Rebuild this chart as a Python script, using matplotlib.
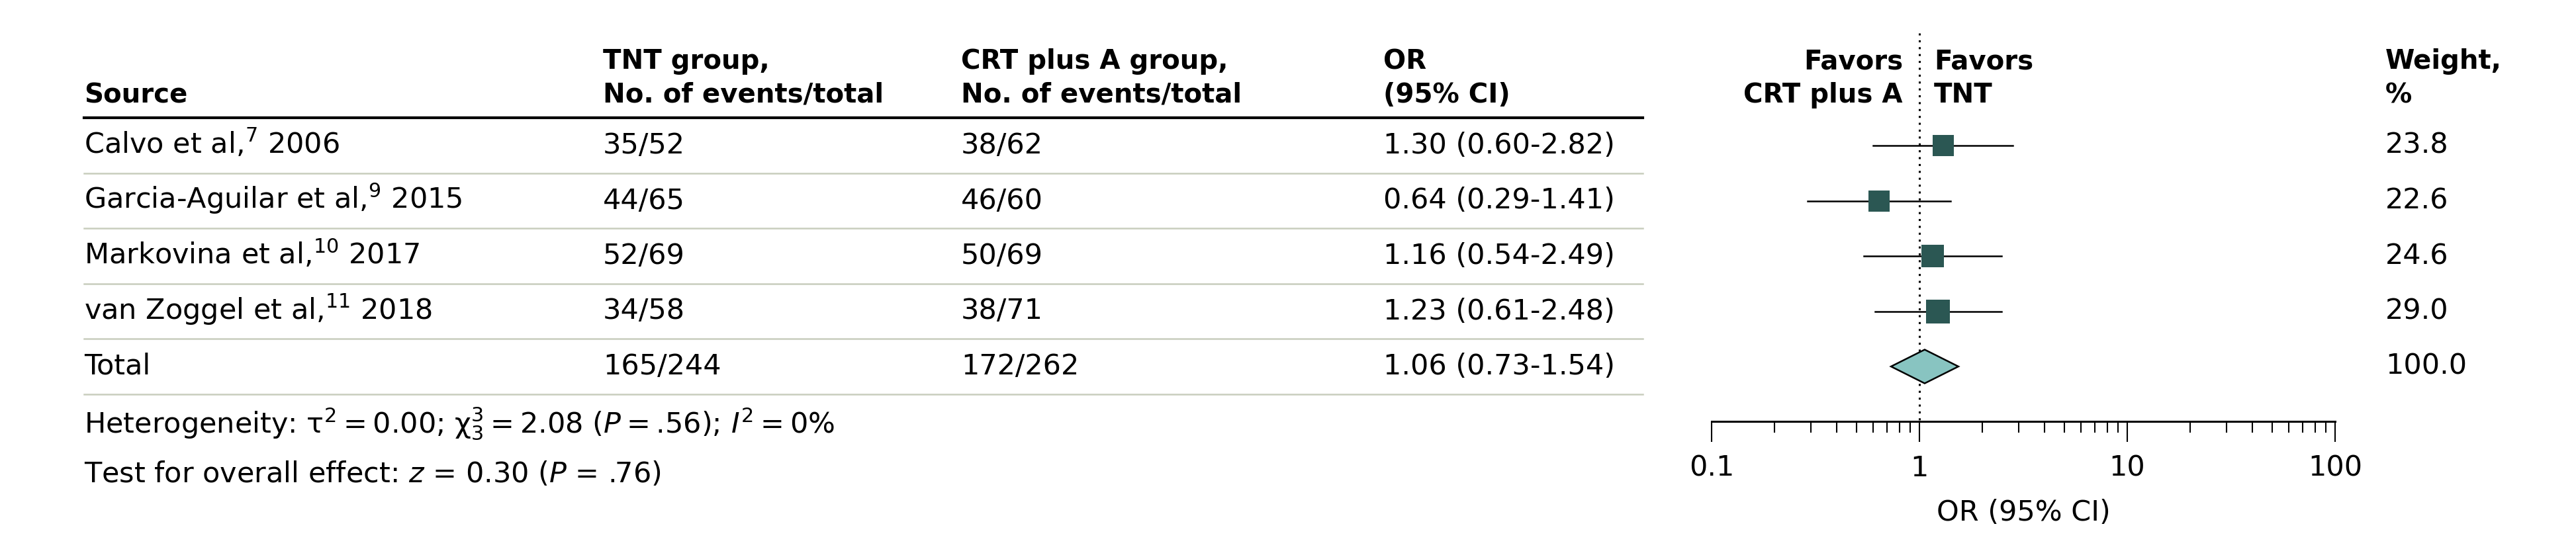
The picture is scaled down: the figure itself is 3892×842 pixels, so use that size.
import matplotlib
matplotlib.use('Agg')
import matplotlib.pyplot as plt
from matplotlib.patches import Polygon

# data
studies = ['Calvo et al,$^{7}$ 2006', 'Garcia-Aguilar et al,$^{9}$ 2015',
           'Markovina et al,$^{10}$ 2017', 'van Zoggel et al,$^{11}$ 2018']
tnt_events = ['35/52', '44/65', '52/69', '34/58']
crt_events = ['38/62', '46/60', '50/69', '38/71']
odds = [1.30, 0.64, 1.16, 1.23]
ci_low = [0.60, 0.29, 0.54, 0.61]
ci_high = [2.82, 1.41, 2.49, 2.48]
weights = [23.8, 22.6, 24.6, 29.0]

total_tnt = '165/244'
total_crt = '172/262'
pooled = [1.06, 0.73, 1.54]
total_weight = 100.0

eq = '\u2009=\u2009'  # thin spaces round the equals sign
heterogeneity = ('Heterogeneity: τ$^{2}$' + eq + '0.00; χ$^{3}_{3}$' + eq +
                 '2.08 ($P$' + eq + '.56); $I^{2}$' + eq + '0%')
overall = 'Test for overall effect: $z$ = 0.30 ($P$ = .76)'
x_ticks = [0.1, 1, 10, 100]
x_ticklabels = ['0.1', '1', '10', '100']

plt.rcParams['font.family'] = 'DejaVu Sans'
plt.rcParams['mathtext.fontset'] = 'dejavusans'

W, H = 3892, 842
FS = 31
HFS = 29
SQ_COLOR = '#2b5753'
DIA_COLOR = '#88c4c1'
SEP_COLOR = '#c8cdbd'

fig = plt.figure(figsize=(W / 100, H / 100), dpi=100)

# table part drawn in pixel coordinates
ax0 = fig.add_axes([0, 0, 1, 1])
ax0.set_xlim(0, W)
ax0.set_ylim(H, 0)
ax0.axis('off')

col_src, col_tnt, col_crt, col_or, col_w = 127, 911, 1452, 2090, 3604
row0, row_step = 220, 83.5
rows = [row0 + i * row_step for i in range(len(studies) + 1)]

# header
ax0.text(col_src, 155, 'Source', fontsize=HFS, fontweight='bold')
ax0.text(col_tnt, 155, 'TNT group,\nNo. of events/total', fontsize=HFS,
         fontweight='bold', linespacing=1.35)
ax0.text(col_crt, 155, 'CRT plus A group,\nNo. of events/total', fontsize=HFS,
         fontweight='bold', linespacing=1.35)
ax0.text(col_or, 155, 'OR\n(95% CI)', fontsize=HFS, fontweight='bold',
         linespacing=1.35)
ax0.text(2875, 155, 'Favors\nCRT plus A', fontsize=HFS, fontweight='bold',
         ha='right', multialignment='right', linespacing=1.35)
ax0.text(2922, 155, 'Favors\nTNT', fontsize=HFS, fontweight='bold',
         linespacing=1.35)
ax0.text(col_w, 155, 'Weight,\n%', fontsize=HFS, fontweight='bold',
         linespacing=1.35)
ax0.plot([col_src, 2482], [178, 178], color='black', lw=3)

labels = studies + ['Total']
tnt_col = tnt_events + [total_tnt]
crt_col = crt_events + [total_crt]
or_col = ['%.2f (%.2f-%.2f)' % (o, l, h) for o, l, h in zip(odds, ci_low, ci_high)]
or_col.append('%.2f (%.2f-%.2f)' % tuple(pooled))
w_col = ['%.1f' % w for w in weights] + ['%.1f' % total_weight]

for y, lab, a, b, o, w in zip(rows, labels, tnt_col, crt_col, or_col, w_col):
    base = y + 12
    ax0.text(col_src, base, lab, fontsize=FS)
    ax0.text(col_tnt, base, a, fontsize=FS)
    ax0.text(col_crt, base, b, fontsize=FS)
    ax0.text(col_or, base, o, fontsize=FS)
    ax0.text(col_w, base, w, fontsize=FS)
    ax0.plot([col_src, 2482], [y + row_step / 2] * 2, color=SEP_COLOR, lw=1.8)

ax0.text(col_src, 655, heterogeneity, fontsize=FS)
ax0.text(col_src, 729, overall, fontsize=FS)

# forest part, log scale, y shares the pixel rows
ax = fig.add_axes([2586 / W, (H - 637) / H, (3528 - 2586) / W, (637 - 40) / H])
ax.set_xscale('log')
ax.set_xlim(0.1, 100)
ax.set_ylim(637, 40)
ax.patch.set_alpha(0)
for s in ['top', 'left', 'right']:
    ax.spines[s].set_visible(False)
ax.spines['bottom'].set_linewidth(2.2)
ax.set_yticks([])
ax.set_xticks(x_ticks)
ax.set_xticklabels(x_ticklabels)
ax.tick_params(axis='x', which='major', direction='out', length=22, width=1.5,
               pad=14, labelsize=FS)
ax.tick_params(axis='x', which='minor', direction='out', length=12, width=1.5)
ax.set_xlabel('OR (95% CI)', fontsize=FS, labelpad=18)

ax.plot([1, 1], [50, 637], color='black', lw=2.2, linestyle=(0, (1, 2.4)),
        zorder=1)

for y, o, l, h, w in zip(rows, odds, ci_low, ci_high, weights):
    ax.plot([l, h], [y, y], color='black', lw=1.8, zorder=2)
    side = 6.76 * w ** 0.5 * 0.72
    ax.plot([o], [y], marker='s', markersize=side, color=SQ_COLOR,
            markeredgewidth=0, zorder=3)

yd = rows[-1]
dia = Polygon([[pooled[1], yd], [pooled[0], yd - 25.5], [pooled[2], yd],
               [pooled[0], yd + 25.5]], closed=True, facecolor=DIA_COLOR,
              edgecolor='black', lw=1.8, zorder=3)
ax.add_patch(dia)

fig.savefig('out.png', dpi=100)
